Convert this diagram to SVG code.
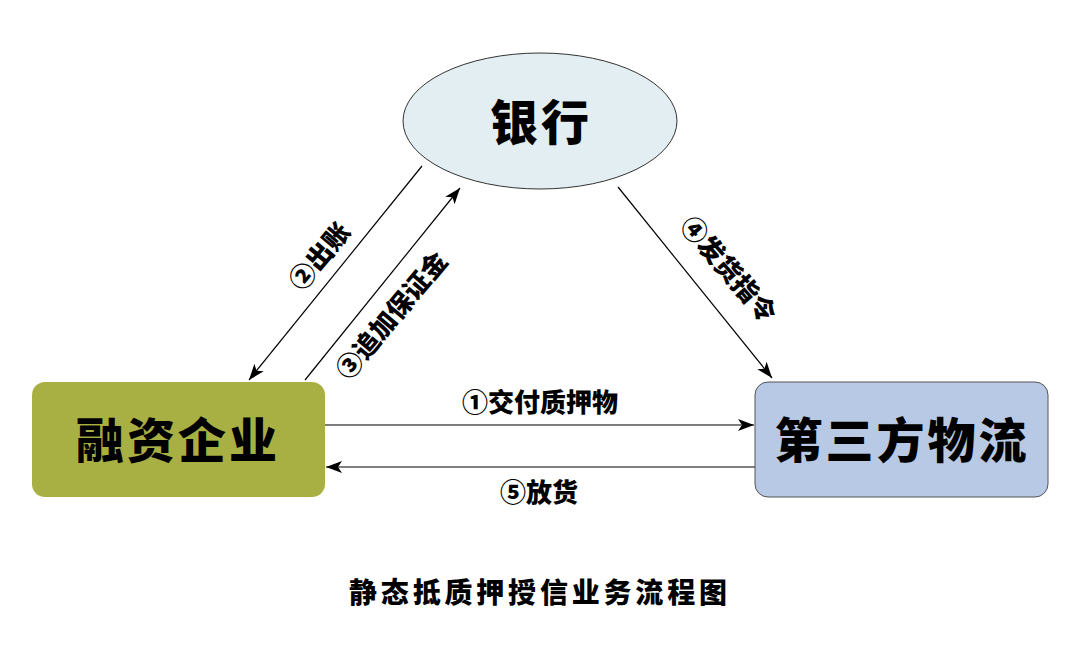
<svg xmlns="http://www.w3.org/2000/svg" width="1080" height="659" viewBox="0 0 1080 659">
<style>
.t{font-family:"Noto Sans CJK SC","Noto Sans",sans-serif;font-weight:900;fill:#000;text-anchor:middle;dominant-baseline:central}
.big{font-size:48px;letter-spacing:3px}
.lbl{font-size:26px}
.edge{stroke:#000;stroke-width:1.2;fill:none}
</style>
<defs>
<marker id="ah" markerUnits="userSpaceOnUse" markerWidth="18" markerHeight="14" refX="16" refY="6" orient="auto">
<path d="M0,0 L16,6 L0,12 L4,6 Z" fill="#000"/>
</marker>
</defs>
<rect width="1080" height="659" fill="#fff"/>
<g id="connectors">
<line class="edge" x1="325" y1="425" x2="754" y2="425" marker-end="url(#ah)"/>
<line class="edge" x1="755" y1="467" x2="326" y2="467" marker-end="url(#ah)"/>
<line class="edge" x1="422" y1="166" x2="249" y2="380" marker-end="url(#ah)"/>
<line class="edge" x1="305" y1="380" x2="460" y2="188" marker-end="url(#ah)"/>
<line class="edge" x1="618" y1="187" x2="772" y2="378" marker-end="url(#ah)"/>
<text class="t lbl" x="540" y="400">①交付质押物</text>
<text class="t lbl" x="539" y="490">⑤放货</text>
<text class="t lbl" transform="translate(318,255) rotate(-50)">②出账</text>
<text class="t lbl" transform="translate(390,314) rotate(-50)">③追加保证金</text>
<text class="t lbl" transform="translate(730,268) rotate(49)">④发货指令</text>
</g>
<g id="bank">
<ellipse cx="540" cy="121" rx="137" ry="68" fill="#e2eef1" stroke="#333" stroke-width="1"/>
<text class="t big" x="541" y="119">银行</text>
</g>
<g id="enterprise">
<rect x="32" y="382" width="293" height="115" rx="13" fill="#a9b043"/>
<text class="t big" x="178" y="437">融资企业</text>
</g>
<g id="logistics">
<rect x="755" y="382" width="293" height="115" rx="13" fill="#b8c9e6" stroke="#555" stroke-width="1"/>
<text class="t big" x="902" y="437">第三方物流</text>
</g>
<g id="title">
<text class="t" style="font-size:28px" x="538" y="591" textLength="378">静态抵质押授信业务流程图</text>
</g>
</svg>
